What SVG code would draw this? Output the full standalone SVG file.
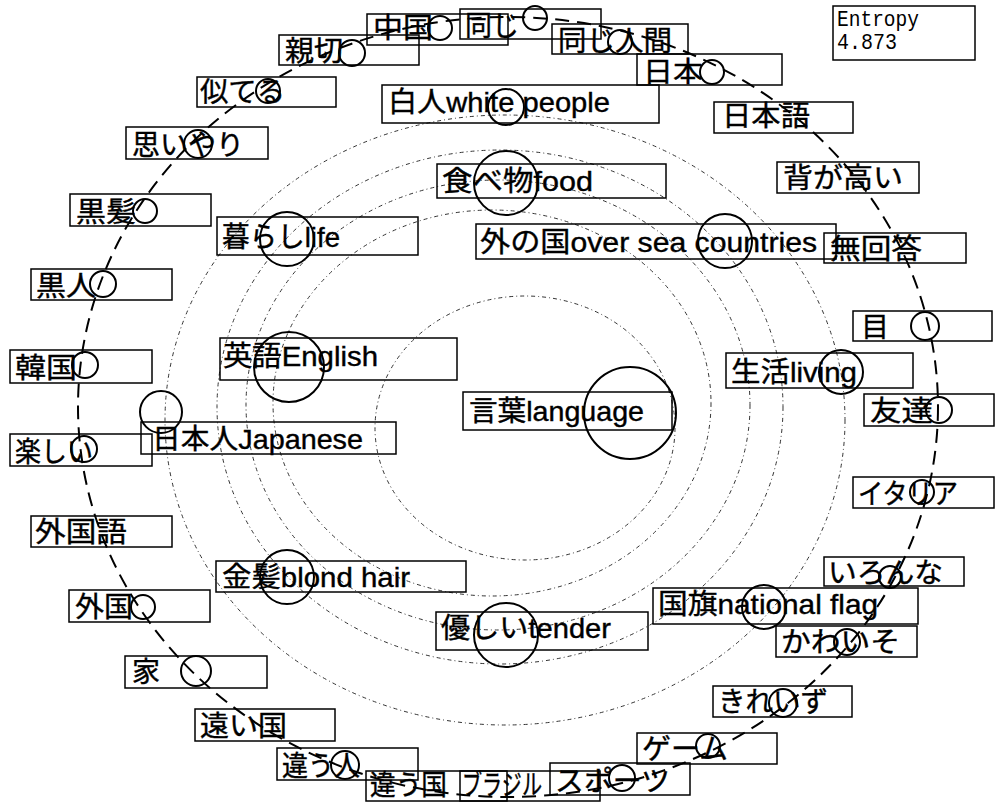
<svg xmlns="http://www.w3.org/2000/svg" width="996" height="802" viewBox="0 0 996 802">
<style>
.box{fill:none;stroke:#000;stroke-width:1.5}
.mk{fill:none;stroke:#000;stroke-width:2}
.t{font-family:"Liberation Sans","Noto Sans CJK JP",sans-serif;font-size:28px;fill:#000;stroke:#000;stroke-width:0.4}
.ring{fill:none;stroke:#333;stroke-width:1;stroke-dasharray:4 3 1 3}
.outer{fill:none;stroke:#000;stroke-width:2;stroke-dasharray:14 8}
.mono{font-family:"Liberation Mono",monospace;font-size:22px;fill:#000}
</style>
<rect width="996" height="802" fill="#fff"/>
<g id="rings">
<ellipse class="ring" cx="525" cy="428" rx="150" ry="132"/>
<ellipse class="ring" cx="492" cy="403" rx="219" ry="193"/>
<ellipse class="ring" cx="498" cy="405" rx="252" ry="225"/>
<ellipse class="ring" cx="500" cy="407" rx="283" ry="257"/>
<ellipse class="ring" cx="505" cy="420" rx="340" ry="305"/>
</g>
<g id="connectors">
<ellipse class="outer" cx="508" cy="407" rx="430" ry="390"/>
</g>
<g id="n-chugoku"><rect class="box" x="367" y="14" width="141" height="31"/><text class="t" x="373" y="38" textLength="60" lengthAdjust="spacingAndGlyphs">中国</text><circle class="mk" cx="440" cy="28" r="12"/></g>
<g id="n-onaji"><rect class="box" x="460" y="9" width="141" height="30"/><text class="t" x="465" y="36" textLength="54" lengthAdjust="spacingAndGlyphs">同じ</text><circle class="mk" cx="535" cy="18" r="12"/></g>
<g id="n-onajiningen"><rect class="box" x="552" y="24" width="136" height="30"/><text class="t" x="558" y="51" textLength="114" lengthAdjust="spacingAndGlyphs">同じ人間</text><circle class="mk" cx="620" cy="42" r="12"/></g>
<g id="n-nihon"><rect class="box" x="637" y="54" width="145" height="31"/><text class="t" x="643" y="82" textLength="60" lengthAdjust="spacingAndGlyphs">日本</text><circle class="mk" cx="712" cy="72" r="12"/></g>
<g id="n-hakujin"><rect class="box" x="382" y="85" width="277" height="38"/><text class="t" x="388" y="112" textLength="222" lengthAdjust="spacingAndGlyphs">白人white people</text><circle class="mk" cx="506" cy="107" r="18"/></g>
<g id="n-shinsetsu"><rect class="box" x="279" y="35" width="140" height="30"/><text class="t" x="285" y="61" textLength="58" lengthAdjust="spacingAndGlyphs">親切</text><circle class="mk" cx="352" cy="53" r="13"/></g>
<g id="n-niteru"><rect class="box" x="197" y="77" width="139" height="30"/><text class="t" x="200" y="102" textLength="85" lengthAdjust="spacingAndGlyphs">似てる</text><circle class="mk" cx="268" cy="91" r="12"/></g>
<g id="n-omoiyari"><rect class="box" x="126" y="127" width="142" height="32"/><text class="t" x="132" y="155" textLength="112" lengthAdjust="spacingAndGlyphs">思いやり</text><circle class="mk" cx="198" cy="144" r="14"/></g>
<g id="n-kurokami"><rect class="box" x="70" y="194" width="141" height="32"/><text class="t" x="76" y="222" textLength="60" lengthAdjust="spacingAndGlyphs">黒髪</text><circle class="mk" cx="145" cy="211" r="12"/></g>
<g id="n-kokujin"><rect class="box" x="31" y="269" width="141" height="31"/><text class="t" x="36" y="296" textLength="60" lengthAdjust="spacingAndGlyphs">黒人</text><circle class="mk" cx="103" cy="284" r="13"/></g>
<g id="n-kankoku"><rect class="box" x="10" y="350" width="142" height="33"/><text class="t" x="15" y="378" textLength="62" lengthAdjust="spacingAndGlyphs">韓国</text><circle class="mk" cx="85" cy="365" r="13"/></g>
<g id="n-tanoshii"><rect class="box" x="10" y="434" width="142" height="32"/><text class="t" x="15" y="462" textLength="78" lengthAdjust="spacingAndGlyphs">楽しい</text><circle class="mk" cx="84" cy="449" r="13"/></g>
<g id="n-nihonjin"><rect class="box" x="141" y="422" width="255" height="32"/><text class="t" x="152" y="449" textLength="211" lengthAdjust="spacingAndGlyphs">日本人Japanese</text><circle class="mk" cx="161" cy="412" r="21"/></g>
<g id="n-eigo"><rect class="box" x="220" y="338" width="237" height="42"/><text class="t" x="223" y="366" textLength="155" lengthAdjust="spacingAndGlyphs">英語English</text><circle class="mk" cx="289" cy="367" r="35"/></g>
<g id="n-kotoba"><rect class="box" x="463" y="392" width="209" height="38"/><text class="t" x="469" y="421" textLength="175" lengthAdjust="spacingAndGlyphs">言葉language</text><circle class="mk" cx="630" cy="413" r="46"/></g>
<g id="n-kurashi"><rect class="box" x="217" y="217" width="201" height="38"/><text class="t" x="222" y="247" textLength="118" lengthAdjust="spacingAndGlyphs">暮らしlife</text><circle class="mk" cx="287" cy="239" r="27"/></g>
<g id="n-tabemono"><rect class="box" x="437" y="164" width="229" height="34"/><text class="t" x="442" y="191" textLength="151" lengthAdjust="spacingAndGlyphs">食べ物food</text><circle class="mk" cx="506" cy="183" r="32"/></g>
<g id="n-sotonokuni"><rect class="box" x="476" y="224" width="360" height="35"/><text class="t" x="480" y="252" textLength="337" lengthAdjust="spacingAndGlyphs">外の国over sea countries</text><circle class="mk" cx="725" cy="241" r="27"/></g>
<g id="n-nihongo"><rect class="box" x="714" y="102" width="139" height="31"/><text class="t" x="722" y="126" textLength="88" lengthAdjust="spacingAndGlyphs">日本語</text></g>
<g id="n-segatakai"><rect class="box" x="777" y="162" width="142" height="31"/><text class="t" x="783" y="188" textLength="120" lengthAdjust="spacingAndGlyphs">背が高い</text></g>
<g id="n-mukaito"><rect class="box" x="824" y="233" width="142" height="30"/><text class="t" x="830" y="259" textLength="92" lengthAdjust="spacingAndGlyphs">無回答</text></g>
<g id="n-me"><rect class="box" x="853" y="311" width="139" height="30"/><text class="t" x="861" y="337">目</text><circle class="mk" cx="925" cy="326" r="14"/></g>
<g id="n-seikatsu"><rect class="box" x="726" y="353" width="187" height="35"/><text class="t" x="731" y="382" textLength="126" lengthAdjust="spacingAndGlyphs">生活living</text><circle class="mk" cx="841" cy="372" r="22"/></g>
<g id="n-tomodachi"><rect class="box" x="864" y="394" width="130" height="32"/><text class="t" x="870" y="421" textLength="63" lengthAdjust="spacingAndGlyphs">友達</text><circle class="mk" cx="939" cy="410" r="13"/></g>
<g id="n-italia"><rect class="box" x="853" y="477" width="141" height="31"/><text class="t" x="858" y="504" textLength="100" lengthAdjust="spacingAndGlyphs">イタリア</text><circle class="mk" cx="922" cy="492" r="12"/></g>
<g id="n-ironna"><rect class="box" x="824" y="557" width="140" height="29"/><text class="t" x="828" y="583" textLength="115" lengthAdjust="spacingAndGlyphs">いろんな</text><circle class="mk" cx="890" cy="577" r="11"/></g>
<g id="n-kokki"><rect class="box" x="653" y="588" width="265" height="36"/><text class="t" x="658" y="614" textLength="220" lengthAdjust="spacingAndGlyphs">国旗national flag</text><circle class="mk" cx="764" cy="607" r="22"/></g>
<g id="n-kawaiso"><rect class="box" x="776" y="626" width="141" height="31"/><text class="t" x="781" y="652" textLength="119" lengthAdjust="spacingAndGlyphs">かわいそ</text><circle class="mk" cx="847" cy="642" r="13"/></g>
<g id="n-kireizu"><rect class="box" x="713" y="686" width="139" height="31"/><text class="t" x="718" y="712" textLength="110" lengthAdjust="spacingAndGlyphs">きれいず</text><circle class="mk" cx="783" cy="703" r="14"/></g>
<g id="n-game"><rect class="box" x="637" y="733" width="140" height="31"/><text class="t" x="642" y="759" textLength="86" lengthAdjust="spacingAndGlyphs">ゲーム</text><circle class="mk" cx="708" cy="746" r="12"/></g>
<g id="n-sports"><rect class="box" x="550" y="763" width="140" height="32"/><text class="t" x="555" y="791" textLength="115" lengthAdjust="spacingAndGlyphs">スポーツ</text><circle class="mk" cx="622" cy="778" r="13"/></g>
<g id="n-yasashii"><rect class="box" x="436" y="612" width="212" height="38"/><text class="t" x="441" y="638" textLength="170" lengthAdjust="spacingAndGlyphs">優しいtender</text><circle class="mk" cx="506" cy="635" r="32"/></g>
<g id="n-kinpatsu"><rect class="box" x="216" y="561" width="250" height="31"/><text class="t" x="222" y="587" textLength="188" lengthAdjust="spacingAndGlyphs">金髪blond hair</text><circle class="mk" cx="287" cy="577" r="27"/></g>
<g id="n-gaikokugo"><rect class="box" x="31" y="516" width="141" height="31"/><text class="t" x="35" y="542" textLength="92" lengthAdjust="spacingAndGlyphs">外国語</text></g>
<g id="n-gaikoku"><rect class="box" x="69" y="590" width="141" height="32"/><text class="t" x="75" y="617" textLength="58" lengthAdjust="spacingAndGlyphs">外国</text><circle class="mk" cx="143" cy="607" r="12"/></g>
<g id="n-ie"><rect class="box" x="125" y="656" width="142" height="32"/><text class="t" x="132" y="682">家</text><circle class="mk" cx="196" cy="671" r="15"/></g>
<g id="n-tooikuni"><rect class="box" x="195" y="709" width="140" height="32"/><text class="t" x="200" y="736" textLength="87" lengthAdjust="spacingAndGlyphs">遠い国</text></g>
<g id="n-chigauhito"><rect class="box" x="277" y="748" width="141" height="32"/><text class="t" x="282" y="776" textLength="78" lengthAdjust="spacingAndGlyphs">違う人</text><circle class="mk" cx="345" cy="765" r="14"/></g>
<g id="n-chigaukuni"><rect class="box" x="366" y="771" width="141" height="30"/><text class="t" x="370" y="795" textLength="77" lengthAdjust="spacingAndGlyphs">違う国</text></g>
<g id="n-brazil"><rect class="box" x="460" y="771" width="140" height="30"/><text class="t" x="462" y="795" textLength="80" lengthAdjust="spacingAndGlyphs">ブラジル</text></g>
<g id="entropy"><rect class="box" x="833" y="6" width="142" height="54"/><text class="mono" x="837" y="26" textLength="82" lengthAdjust="spacingAndGlyphs">Entropy</text><text class="mono" x="837" y="49" textLength="60" lengthAdjust="spacingAndGlyphs">4.873</text></g>
</svg>
